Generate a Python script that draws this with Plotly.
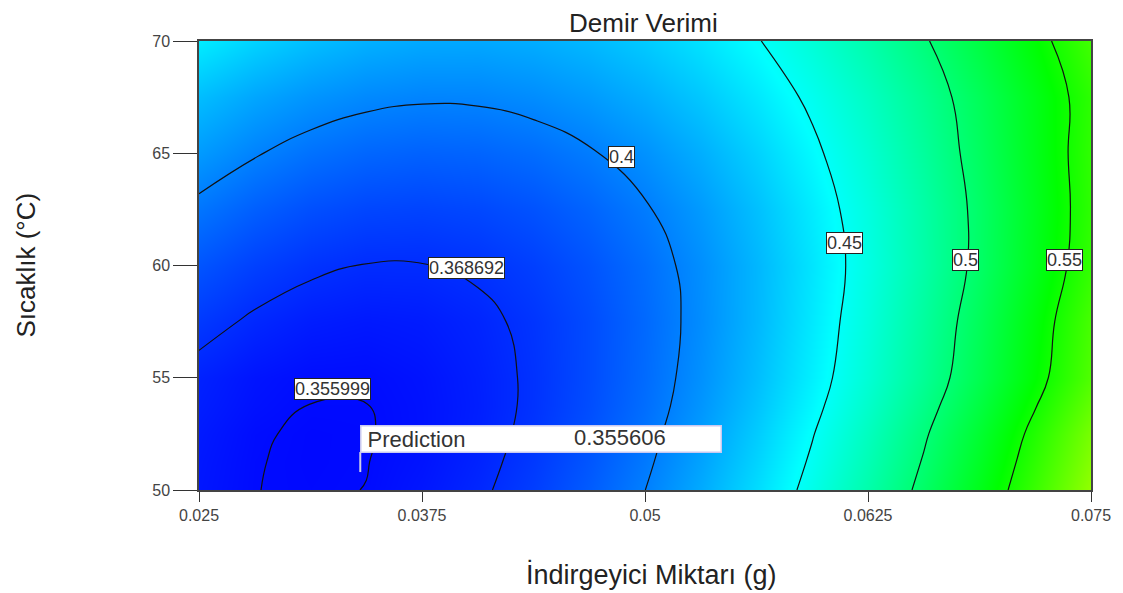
import plotly.graph_objects as go

# ---- data ----
reductant_g = [0.025, 0.028125, 0.03125, 0.034375, 0.0375, 0.040625, 0.04375, 0.046875,
               0.05, 0.053125, 0.05625, 0.059375, 0.0625, 0.065625, 0.06875, 0.071875, 0.075]
temperature_c = [50, 51.25, 52.5, 53.75, 55, 57.5, 60, 62.5, 65, 67.5, 70]
iron_yield = [
    [0.3602, 0.3561, 0.3552, 0.3561, 0.3602, 0.3664, 0.3751, 0.3863, 0.3999, 0.4161, 0.4347, 0.4558, 0.4794, 0.5055, 0.5341, 0.5651, 0.5987],
    [0.3607, 0.3563, 0.3549, 0.3558, 0.3591, 0.3650, 0.3733, 0.3841, 0.3974, 0.4132, 0.4315, 0.4523, 0.4756, 0.5014, 0.5297, 0.5605, 0.5937],
    [0.3616, 0.3567, 0.3550, 0.3555, 0.3584, 0.3639, 0.3718, 0.3823, 0.3952, 0.4107, 0.4286, 0.4491, 0.4720, 0.4975, 0.5254, 0.5559, 0.5888],
    [0.3632, 0.3583, 0.3559, 0.3559, 0.3585, 0.3634, 0.3709, 0.3808, 0.3932, 0.4081, 0.4254, 0.4452, 0.4675, 0.4922, 0.5194, 0.5491, 0.5812],
    [0.3644, 0.3594, 0.3569, 0.3567, 0.3590, 0.3637, 0.3707, 0.3802, 0.3921, 0.4064, 0.4231, 0.4422, 0.4637, 0.4876, 0.5140, 0.5427, 0.5738],
    [0.3732, 0.3667, 0.3626, 0.3611, 0.3621, 0.3656, 0.3717, 0.3802, 0.3913, 0.4048, 0.4209, 0.4395, 0.4606, 0.4843, 0.5104, 0.5391, 0.5703],
    [0.3835, 0.3760, 0.3709, 0.3683, 0.3683, 0.3707, 0.3757, 0.3832, 0.3931, 0.4056, 0.4206, 0.4380, 0.4580, 0.4805, 0.5055, 0.5329, 0.5629],
    [0.3961, 0.3877, 0.3817, 0.3783, 0.3773, 0.3789, 0.3829, 0.3895, 0.3985, 0.4100, 0.4241, 0.4406, 0.4596, 0.4811, 0.5052, 0.5317, 0.5607],
    [0.4101, 0.4011, 0.3945, 0.3904, 0.3887, 0.3896, 0.3928, 0.3986, 0.4068, 0.4175, 0.4307, 0.4463, 0.4644, 0.4850, 0.5080, 0.5335, 0.5615],
    [0.4232, 0.4143, 0.4078, 0.4035, 0.4016, 0.4020, 0.4048, 0.4099, 0.4173, 0.4270, 0.4391, 0.4534, 0.4702, 0.4892, 0.5106, 0.5343, 0.5603],
    [0.4413, 0.4313, 0.4237, 0.4184, 0.4156, 0.4151, 0.4171, 0.4214, 0.4282, 0.4373, 0.4488, 0.4628, 0.4791, 0.4978, 0.5189, 0.5424, 0.5684],
]

contour_levels = [0.355999, 0.368692, 0.4, 0.45, 0.5, 0.55]
contour_label_text = ["0.355999", "0.368692", "0.4", "0.45", "0.5", "0.55"]
contour_label_x = [0.03246, 0.0400, 0.04871, 0.06121, 0.06799, 0.07354]
contour_label_y = [54.5, 59.89, 64.83, 61.0, 60.24, 60.24]

x_tick_vals = [0.025, 0.0375, 0.05, 0.0625, 0.075]
x_tick_text = ["0.025", "0.0375", "0.05", "0.0625", "0.075"]
y_tick_vals = [50, 55, 60, 65, 70]
y_tick_text = ["50", "55", "60", "65", "70"]

prediction_label = "\u00a0Prediction"
prediction_value = "0.355606"
prediction_x = 0.03404
prediction_y = 50.8

title_text = "Demir Verimi"
x_title = "İndirgeyici Miktarı (g)"
y_title = "Sıcaklık (°C)"

# ---- styling ----
FONT = "Arial, Liberation Sans, sans-serif"
ramp = [
    [0.0, "rgb(0,0,255)"],
    [0.25, "rgb(0,255,255)"],
    [0.5, "rgb(0,255,0)"],
    [0.75, "rgb(255,255,0)"],
    [1.0, "rgb(255,0,0)"],
]

fig = go.Figure()
fig.add_trace(go.Heatmap(
    x=reductant_g, y=temperature_c, z=iron_yield,
    colorscale=ramp, zmin=0.352, zmax=0.735, zsmooth="best",
    showscale=False, hoverinfo="skip",
))
for lvl in contour_levels:
    fig.add_trace(go.Contour(
        x=reductant_g, y=temperature_c, z=iron_yield,
        autocontour=False,
        contours=dict(start=lvl, end=lvl, size=0.01, coloring="none"),
        line=dict(color="#111111", width=1.2, smoothing=1.3),
        showscale=False, hoverinfo="skip",
    ))

annotations = []
for txt, lx, ly in zip(contour_label_text, contour_label_x, contour_label_y):
    annotations.append(dict(
        x=lx, y=ly, xref="x", yref="y", text=txt, showarrow=False,
        font=dict(family=FONT, size=18, color="#333333"),
        bgcolor="white", bordercolor="#222222", borderwidth=1, borderpad=0,
    ))

# prediction flag
annotations.append(dict(
    x=prediction_x, y=prediction_y, xref="x", yref="y",
    xanchor="left", yanchor="bottom", yshift=19,
    text=prediction_label, showarrow=False, align="left",
    width=359, height=25,
    font=dict(family=FONT, size=22, color="#333333"),
    bgcolor="white", bordercolor="#c8c8f0", borderwidth=1.5, borderpad=0,
))
annotations.append(dict(
    x=prediction_x, y=prediction_y, xref="x", yref="y",
    xanchor="left", yanchor="bottom", yshift=20, xshift=212,
    text=prediction_value, showarrow=False,
    font=dict(family=FONT, size=22, color="#333333"),
))

# titles
annotations.append(dict(x=0.498, y=1.0735, xref="paper", yref="paper", text=title_text,
                        xanchor="center", yanchor="top", height=25,
                        showarrow=False, font=dict(family=FONT, size=26, color="#222222")))
annotations.append(dict(x=0.507, y=-0.189, xref="paper", yref="paper", text=x_title,
                        xanchor="center", yanchor="middle",
                        showarrow=False, font=dict(family=FONT, size=27, color="#222222")))
annotations.append(dict(x=-0.195, y=0.5, xref="paper", yref="paper", text=y_title, textangle=-90,
                        xanchor="center", yanchor="middle",
                        showarrow=False, font=dict(family=FONT, size=26, color="#222222")))

shapes = [dict(
    type="line", xref="x", yref="y", ysizemode="pixel", yanchor=prediction_y,
    x0=prediction_x, x1=prediction_x, y0=0, y1=20,
    line=dict(color="#d0d0e8", width=2),
)]

fig.update_layout(
    width=1115, height=585,
    margin=dict(l=191, r=32, t=33, b=103),
    paper_bgcolor="white", plot_bgcolor="white",
    showlegend=False,
    annotations=annotations, shapes=shapes,
    font=dict(family=FONT),
)
fig.update_xaxes(
    range=[0.025, 0.075], tickvals=x_tick_vals, ticktext=x_tick_text,
    ticks="outside", ticklen=10, tickcolor="#333333", tickwidth=1,
    tickfont=dict(family=FONT, size=16, color="#444444"),
    showgrid=False, zeroline=False, showline=True, linecolor="#444444", linewidth=1.5, mirror=True,
)
fig.update_yaxes(
    range=[50, 70], tickvals=y_tick_vals, ticktext=y_tick_text,
    ticks="outside", ticklen=24, tickcolor="#333333", tickwidth=1,
    tickfont=dict(family=FONT, size=16, color="#444444"),
    showgrid=False, zeroline=False, showline=True, linecolor="#444444", linewidth=1.5, mirror=True,
)

fig.write_html("out.html")
